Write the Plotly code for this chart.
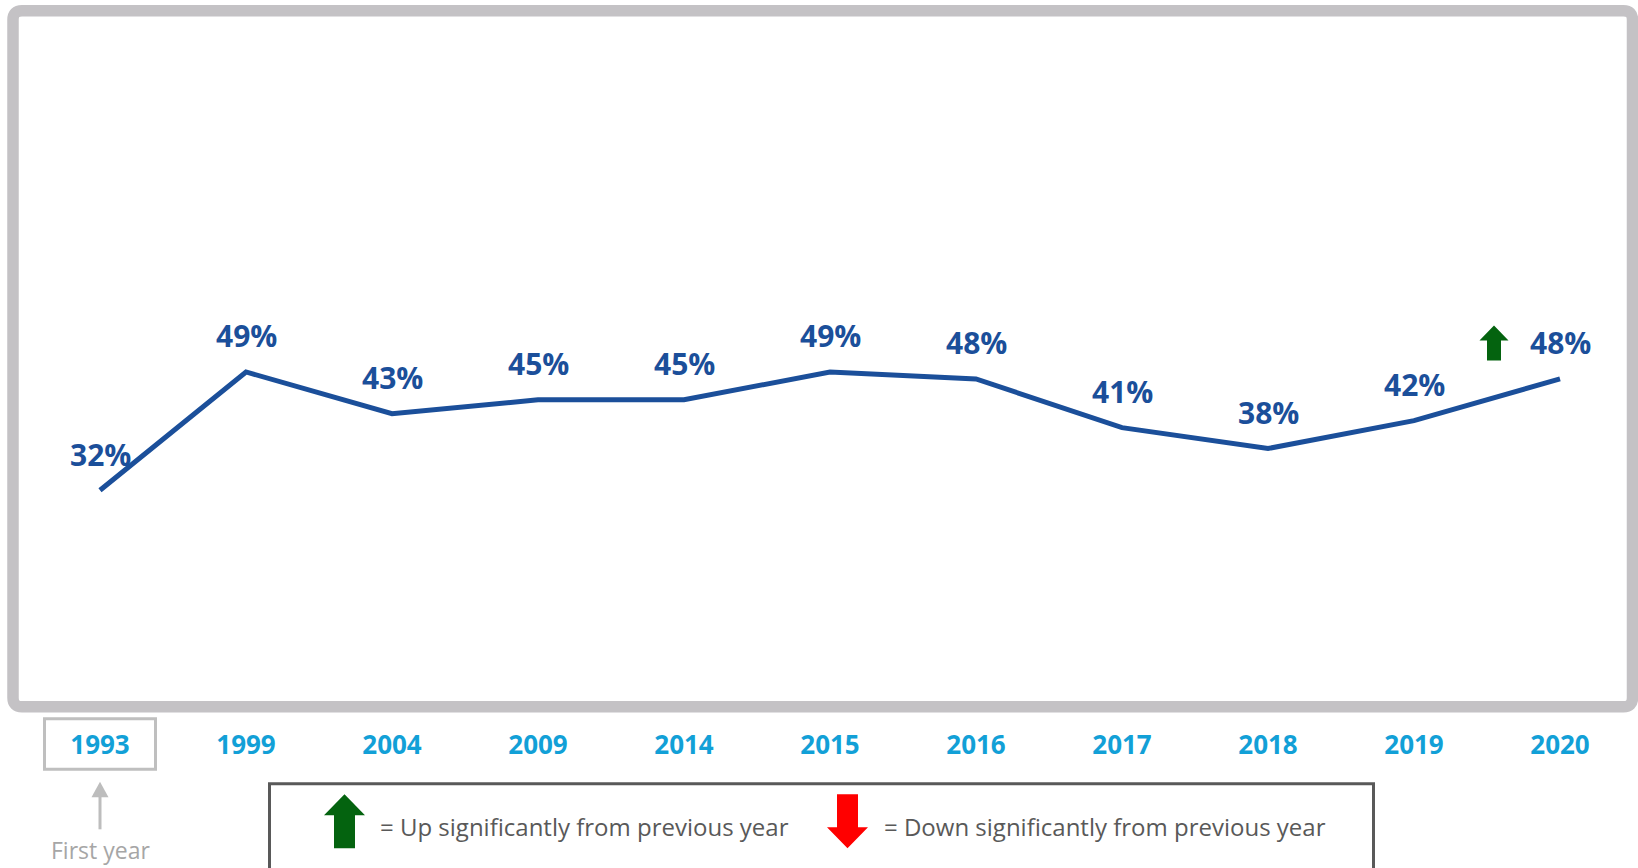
import plotly.graph_objects as go

# ---------------- data ----------------
years = ["1993", "1999", "2004", "2009", "2014", "2015", "2016", "2017", "2018", "2019", "2020"]
values = [32, 49, 43, 45, 45, 49, 48, 41, 38, 42, 48]
value_labels = [f"{v}%" for v in values]
sig_up_years = ["2020"]
sig_down_years = []
first_year = "1993"
first_year_text = "First year"
legend_up_text = "= Up significantly from previous year"
legend_down_text = "= Down significantly from previous year"

# ---------------- layout constants (pixels) ----------------
W, H = 1638, 868
ML, MR, MT, MB = 27, 5, 16.7, 155.3
PW, PH = W - ML - MR, H - MT - MB
YMAX = 100

LINE_COLOR = "#1B4F9A"
TICK_COLOR = "#12A0D7"
FRAME_COLOR = "#C4C2C5"
GREEN = "#04630F"
RED = "#FF0000"
FONT = "Open Sans"


def xp(p):
    return (p - ML) / PW


def yp(p):
    return (H - MB - p) / PH


def data_px_x(i):
    return ML + (i + 0.5) / len(years) * PW


def data_px_y(v):
    return MT + (1 - v / YMAX) * PH


def path(points):
    return "M " + " L ".join(f"{xp(x):.5f},{yp(y):.5f}" for x, y in points) + " Z"


def arrow(cx, top, bottom, headw, shaftw, headh, up=True):
    if up:
        pts = [(cx, top), (cx + headw / 2, top + headh), (cx + shaftw / 2, top + headh),
               (cx + shaftw / 2, bottom), (cx - shaftw / 2, bottom), (cx - shaftw / 2, top + headh),
               (cx - headw / 2, top + headh)]
    else:
        pts = [(cx, bottom), (cx + headw / 2, bottom - headh), (cx + shaftw / 2, bottom - headh),
               (cx + shaftw / 2, top), (cx - shaftw / 2, top), (cx - shaftw / 2, bottom - headh),
               (cx - headw / 2, bottom - headh)]
    return path(pts)


def rounded_rect(x0, y0, x1, y1, r):
    def P(x, y):
        return f"{xp(x):.5f},{yp(y):.5f}"
    return (f"M {P(x0 + r, y0)} L {P(x1 - r, y0)} Q {P(x1, y0)} {P(x1, y0 + r)} "
            f"L {P(x1, y1 - r)} Q {P(x1, y1)} {P(x1 - r, y1)} "
            f"L {P(x0 + r, y1)} Q {P(x0, y1)} {P(x0, y1 - r)} "
            f"L {P(x0, y0 + r)} Q {P(x0, y0)} {P(x0 + r, y0)} Z")


fig = go.Figure()
fig.add_trace(go.Scatter(
    x=list(range(len(years))), y=values, mode="lines",
    line=dict(color=LINE_COLOR, width=5),
    hoverinfo="skip", showlegend=False,
))

annotations = []
for i, (v, lab) in enumerate(zip(values, value_labels)):
    annotations.append(dict(
        x=i, y=v, xref="x", yref="y", text=lab, showarrow=False,
        yanchor="middle", xanchor="center", yshift=36,
        font=dict(family=FONT, size=30, color=LINE_COLOR, weight="bold"),
    ))

shapes = []
# outer frame
shapes.append(dict(type="path", xref="paper", yref="paper",
                   path=rounded_rect(13, 10.5, 1632.5, 706.5, 9),
                   line=dict(color=FRAME_COLOR, width=11.5), fillcolor="rgba(0,0,0,0)", layer="below"))

# significance arrows on the chart
for yr in sig_up_years:
    i = years.index(yr)
    cx = data_px_x(i) - 66
    cy = data_px_y(values[i]) - 36
    shapes.append(dict(type="path", xref="paper", yref="paper",
                       path=arrow(cx, cy - 17.5, cy + 17.5, 29, 14, 15, up=True),
                       fillcolor=GREEN, line=dict(width=0)))
for yr in sig_down_years:
    i = years.index(yr)
    cx = data_px_x(i) - 66
    cy = data_px_y(values[i]) - 36
    shapes.append(dict(type="path", xref="paper", yref="paper",
                       path=arrow(cx, cy - 17.5, cy + 17.5, 29, 14, 15, up=False),
                       fillcolor=RED, line=dict(width=0)))

# first-year box, arrow and text
fi = years.index(first_year)
fx = data_px_x(fi)
shapes.append(dict(type="rect", xref="paper", yref="paper",
                   x0=xp(fx - 55.5), x1=xp(fx + 55.5), y0=yp(769), y1=yp(718.5),
                   line=dict(color="#BFBFBF", width=3), fillcolor="rgba(0,0,0,0)"))
shapes.append(dict(type="line", xref="paper", yref="paper",
                   x0=xp(fx), x1=xp(fx), y0=yp(829), y1=yp(795),
                   line=dict(color="#BDBDBD", width=3)))
shapes.append(dict(type="path", xref="paper", yref="paper",
                   path=path([(fx, 781.5), (fx + 8.5, 797), (fx - 8.5, 797)]),
                   fillcolor="#BDBDBD", line=dict(width=0)))
annotations.append(dict(x=xp(fx), y=yp(850), xref="paper", yref="paper", text=first_year_text,
                        showarrow=False, xanchor="center", yanchor="middle",
                        font=dict(family=FONT, size=23, color="#A6A6A6")))

# legend box
shapes.append(dict(type="rect", xref="paper", yref="paper",
                   x0=xp(269.5), x1=xp(1373.5), y0=yp(900), y1=yp(783.5),
                   line=dict(color="#595959", width=3), fillcolor="rgba(0,0,0,0)"))
shapes.append(dict(type="path", xref="paper", yref="paper",
                   path=arrow(344.5, 794, 848, 41, 21, 21, up=True),
                   fillcolor=GREEN, line=dict(width=0)))
shapes.append(dict(type="path", xref="paper", yref="paper",
                   path=arrow(847.5, 794, 848, 41, 21, 21, up=False),
                   fillcolor=RED, line=dict(width=0)))
annotations.append(dict(x=xp(378), y=yp(826), xref="paper", yref="paper", text=legend_up_text,
                        showarrow=False, xanchor="left", yanchor="middle",
                        font=dict(family=FONT, size=24, color="#595959")))
annotations.append(dict(x=xp(882), y=yp(826), xref="paper", yref="paper", text=legend_down_text,
                        showarrow=False, xanchor="left", yanchor="middle",
                        font=dict(family=FONT, size=24, color="#595959")))

fig.update_layout(
    width=W, height=H,
    margin=dict(l=ML, r=MR, t=MT, b=MB, pad=0),
    paper_bgcolor="white", plot_bgcolor="white",
    showlegend=False,
    xaxis=dict(range=[-0.5, len(years) - 0.5], showgrid=False, zeroline=False,
               showline=False, ticks="outside", ticklen=9, tickcolor="rgba(0,0,0,0)",
               tickmode="array", tickvals=list(range(len(years))), ticktext=years,
               tickfont=dict(family=FONT, size=26, color=TICK_COLOR, weight="bold"), fixedrange=True),
    yaxis=dict(range=[0, YMAX], visible=False, fixedrange=True),
    annotations=annotations,
    shapes=shapes,
)

fig.write_html("out.html", config={"displayModeBar": False},
               post_script="document.body.style.margin='0';document.body.style.overflow='hidden';")
